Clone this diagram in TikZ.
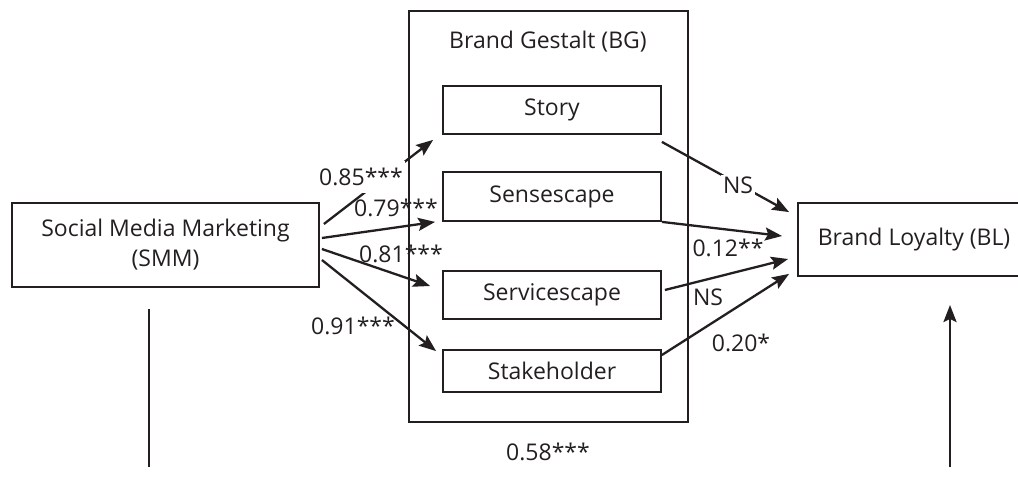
\documentclass[tikz,border=0pt]{standalone}
\usepackage{fontspec}
\setmainfont{Open Sans}
\usetikzlibrary{arrows.meta}
\definecolor{ink}{HTML}{231F20}

\begin{document}
\begin{tikzpicture}[x=1pt, y=-1pt, font=\fontsize{23}{30}\selectfont, color=ink,
  box/.style = {draw, line width=1.8pt, inner sep=0pt, align=center},
  factor/.style = {box, minimum width=218pt},
  effect/.style = {line width=2.3pt, -{Stealth[length=17pt, width=13pt, inset=3pt]}},
  coef/.style = {inner sep=2pt},
  cut/.style = {coef, fill=white}]
\useasboundingbox (0,0) rectangle (1018,484);
% Brand Gestalt frame and its dimensions
\node[box, minimum width=279pt, minimum height=411pt] (BG) at (548.5,216.5) {};
\node (BGtitle) at (548,42) {Brand Gestalt (BG)};
\node[factor, minimum height=48pt] (story) at (552,110) {Story};
\node[factor, minimum height=49pt] (sense) at (552,196.5) {Sensescape};
\node[factor, minimum height=48pt] (service) at (552,295) {Servicescape};
\node[factor, minimum height=42pt] (stake) at (552,371) {Stakeholder};
% outer constructs
\node[box, minimum width=307pt, minimum height=84pt] (SMM) at (165.5,245) {Social Media Marketing\\(SMM)};
\node[box, minimum width=232pt, minimum height=73pt] (BL) at (914,239.5) {Brand Loyalty (BL)};
% SMM -> dimensions
\draw[effect] ([xshift=4pt, yshift=21pt]SMM.east) -- ([xshift=-9pt, yshift=-5pt]story.south west);
\draw[effect] ([xshift=2pt, yshift=7pt]SMM.east) -- ([xshift=-7pt]sense.south west);
\draw[effect] ([xshift=2pt, yshift=-4pt]SMM.east) -- ([xshift=-12pt, yshift=9pt]service.west);
\draw[effect] ([xshift=2pt, yshift=-15pt]SMM.east) -- ([xshift=-6pt, yshift=-2pt]stake.north west);
\node[cut, inner ysep=7pt] (c1) at (361,177) {0.85***};
\node[coef] (c2) at (396,208) {0.79***};
\node[coef] (c3) at (401,254) {0.81***};
\node[coef] (c4) at (353,326) {0.91***};
% dimensions -> BL
\draw[effect] ([yshift=-7pt]story.south east) -- ([xshift=-8pt, yshift=-10pt]BL.north west);
\draw[effect] (sense.south east) -- ([xshift=-15pt, yshift=3.5pt]BL.west);
\draw[effect] ([xshift=3pt, yshift=5pt]service.east) -- ([xshift=-9pt, yshift=-19.5pt]BL.west);
\draw[effect] ([yshift=16pt]stake.east) -- ([xshift=-8pt, yshift=3pt]BL.south west);
\node[cut] (d1) at (738,185) {NS};
\node[coef] (d2) at (728,248) {0.12**};
\node[coef] (d3) at (708,297) {NS};
\node[coef] (d4) at (741,343) {0.20*};
% direct path
\coordinate (smmdown) at (149,309);
\coordinate (smmfoot) at (149,467);
\coordinate (blfoot) at (950,467);
\coordinate (blup) at (950,305);
\draw[line width=2.6pt] (smmdown) -- (smmfoot);
\draw[effect, line width=2.6pt] (blfoot) -- (blup);
\node (direct) at (548,452) {0.58***};
\end{tikzpicture}
\end{document}
